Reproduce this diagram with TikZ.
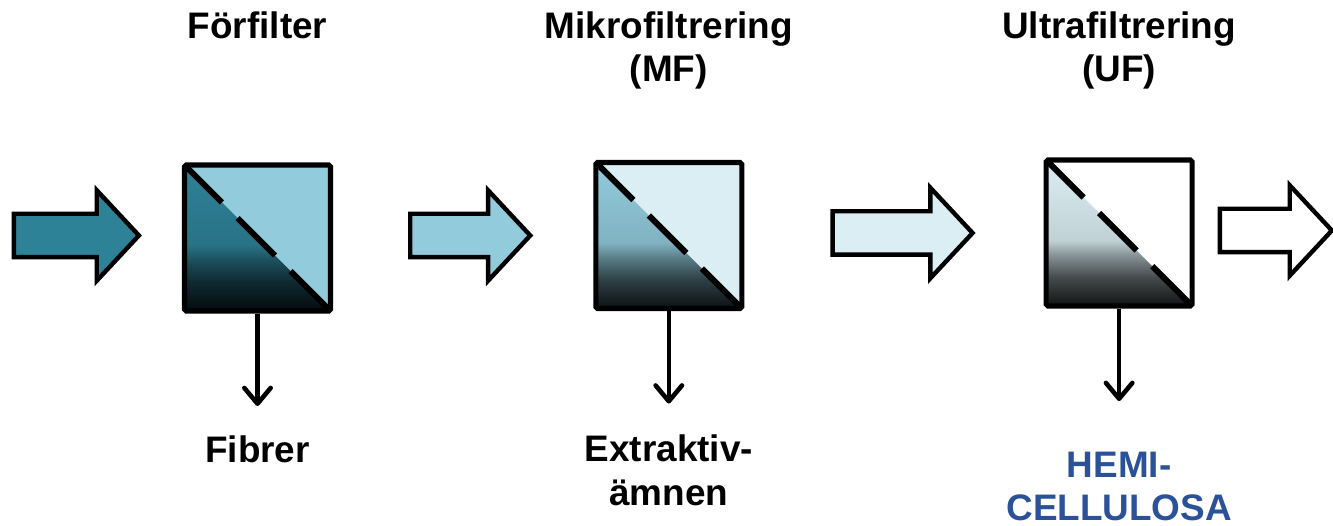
\documentclass[tikz,border=0pt]{standalone}
\usepackage{fontspec}
\setmainfont{Liberation Sans}
\usetikzlibrary{positioning,shapes.arrows,arrows.meta}

\definecolor{fibreteal}{RGB}{46,130,152}
\definecolor{mfblue}{RGB}{146,203,220}
\definecolor{ufblue}{RGB}{219,238,243}
\definecolor{hemiblue}{RGB}{43,82,152}
\colorlet{filtertop}{fibreteal}

% retentate side: colour on top, black at the bottom
\pgfdeclareverticalshading[filtertop]{retentate}{100bp}{color(0bp)=(black);
    color(25bp)=(black!92!filtertop); color(35bp)=(filtertop!32!black);
    color(42.5bp)=(filtertop!62!black); color(47.5bp)=(filtertop!88!black);
    color(75bp)=(filtertop); color(100bp)=(filtertop)}

\tikzset{
    filterbox/.style 2 args={draw, line width=2.9pt, rounded corners=1pt,
        minimum size=2.92cm, inner sep=0pt,
        path picture={
            \fill[#1] (path picture bounding box.north west)
                -- (path picture bounding box.north east)
                -- (path picture bounding box.south east) -- cycle;
            \colorlet{filtertop}{#2}
            \shade[shading=retentate]
                (path picture bounding box.north west)
                -- (path picture bounding box.south west)
                -- (path picture bounding box.south east) -- cycle;
            \draw[line width=3.4pt, dash pattern=on 1.06cm off 0.44cm]
                (path picture bounding box.north west)
                -- (path picture bounding box.south east);
        }},
    flowarrow/.style={single arrow, draw, line width=2.5pt, inner xsep=0pt,
        inner ysep=0.39cm, minimum width=1.72cm, single arrow head extend=0.47cm,
        single arrow tip angle=94, yshift=0.05cm},
    outflow/.style={draw, line width=2.6pt, -{Straight Barb[length=9pt,width=15pt,round]}},
    stagetitle/.style={font=\bfseries\fontsize{21}{24.5}\selectfont, align=center,
        anchor=base, inner sep=0pt},
}

\begin{document}
\begin{tikzpicture} % three filter steps in a row
    \useasboundingbox (0,0) rectangle (26.66,10.5);
    \coordinate (head) at (0,9.72);
    \coordinate (head2) at (0,8.86);
    \coordinate (foot) at (0,1.26);

    \node[filterbox={mfblue}{fibreteal}] (f1) at (5.15,5.74) {};
    \node[flowarrow, fill=fibreteal, minimum height=2.5cm, left=0.8cm of f1] (a1) {};
    \node[flowarrow, fill=mfblue, minimum height=2.4cm, right=1.5cm of f1] (a2) {};
    \node[filterbox={ufblue}{mfblue}, right=1.2cm of a2] (f2) {};
    \node[flowarrow, fill=ufblue, minimum height=2.8cm, right=1.72cm of f2] (a3) {};
    \node[filterbox={white}{ufblue}, right=1.36cm of a3] (f3) {};
    \node[flowarrow, fill=white, minimum height=2.24cm, right=0.46cm of f3] (a4) {};

    \coordinate[below=1.85cm of f1] (o1);
    \coordinate[below=1.85cm of f2] (o2);
    \coordinate[below=1.85cm of f3] (o3);
    \draw[outflow] (f1) -- (o1);
    \draw[outflow] (f2) -- (o2);
    \draw[outflow] (f3) -- (o3);

    \node[stagetitle] (t1) at (f1 |- head) {Förfilter};
    \node[stagetitle] (t2) at (f2 |- head2) {Mikrofiltrering\\(MF)};
    \node[stagetitle] (t3) at (f3 |- head2) {Ultrafiltrering\\(UF)};
    \node[stagetitle] (p1) at (f1 |- foot) {Fibrer};
    \node[stagetitle] (p2) at (f2 |- 0,0.40) {Extraktiv-\\ämnen};
    \node[stagetitle, text=hemiblue] (p3) at (f3 |- 0,0.09) {HEMI-\\CELLULOSA};
\end{tikzpicture}
\end{document}
